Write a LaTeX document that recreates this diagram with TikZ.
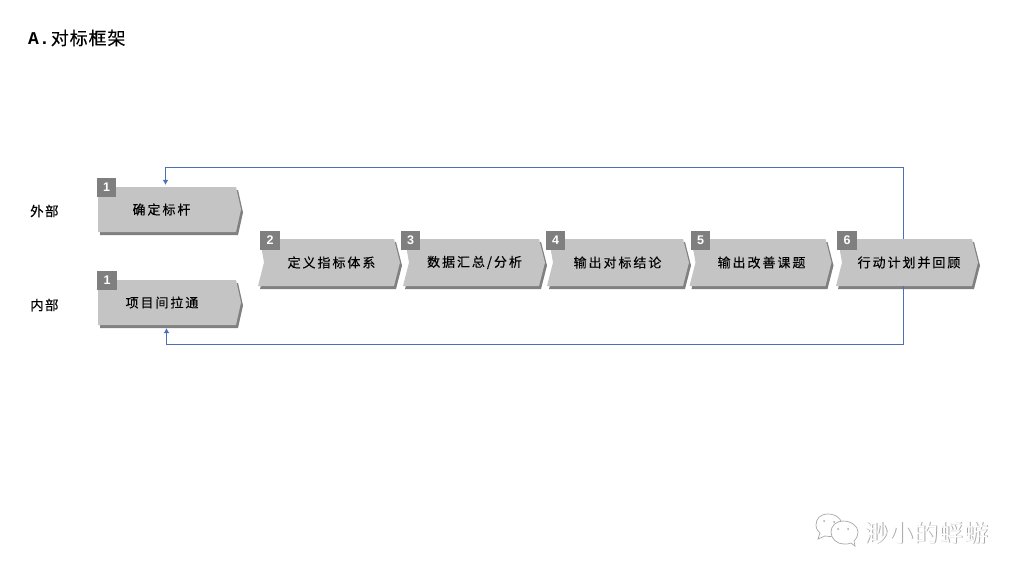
\documentclass[tikz,border=0pt]{standalone}
\usepackage{fontspec}
\setmainfont{Liberation Sans}
\newfontfamily\cjk[LetterSpace=15,FakeBold=0.25]{Noto Sans CJK SC}
\newfontfamily\cjkside[LetterSpace=10,FakeBold=0.25]{Noto Sans CJK SC}
\newfontfamily\cjktitle[LetterSpace=5,FakeBold=0.25]{Noto Sans CJK SC}
\newfontfamily\cjkwm[LetterSpace=4]{Noto Sans CJK SC}
\newfontfamily\latinmono{Liberation Mono}
\usetikzlibrary{arrows.meta}
\definecolor{stagefill}{HTML}{C4C4C4}
\definecolor{stageshade}{HTML}{808080}
\definecolor{badgefill}{HTML}{7F7F7F}
\definecolor{loopblue}{HTML}{4A70B8}
\definecolor{wmgrey}{HTML}{A8A8A8}
\tikzset{
  x=1pt,y=-1pt,
  stagebody/.style={fill=stagefill,draw=none},
  stageback/.style={fill=stageshade,draw=none},
  stagelabel/.style={font=\cjk\fontsize{13}{13}\selectfont,text=black,inner sep=0pt,minimum width=10pt},
  badge/.style={fill=badgefill,text=white,font=\fontsize{12.5}{12.5}\selectfont\bfseries,inner sep=0pt,minimum width=19.5pt,minimum height=19.5pt},
  sidelabel/.style={font=\cjkside\fontsize{13.5}{13.5}\selectfont,inner sep=0pt,anchor=west},
  titlelabel/.style={font=\fontsize{18}{18}\selectfont,inner sep=0pt,anchor=west},
  looppath/.style={draw=loopblue,line width=1pt},
  looparrow/.style={-{Latex[length=5pt,width=6pt]}},
  wmline/.style={draw=wmgrey,fill=white,line width=0.7pt},
}
\newcommand{\chevron}[1]{%
  \path[stageback,shift={(2,3)}] (#1,239) -- (#1+136,239) -- (#1+142,262.5) -- (#1+136,286) -- (#1,286) -- (#1+6,262.5) -- cycle;
  \path[stagebody] (#1+2,239) -- (#1+136,239) -- (#1+142,262.5) -- (#1+136,286) -- (#1,286) -- (#1+6,262.5) -- cycle;
}
\newcommand{\startbox}[1]{%
  \path[stageback,shift={(2,3)}] (98,#1) -- (236,#1) -- (241,#1+22.5) -- (236,#1+45) -- (98,#1+45) -- cycle;
  \path[stagebody] (98,#1) -- (236,#1) -- (241,#1+22.5) -- (236,#1+45) -- (98,#1+45) -- cycle;
}
\begin{document}
\begin{tikzpicture}
\useasboundingbox[fill=white] (0,0) rectangle (1024,576);

\node[titlelabel] (title) at (28,38) {{\latinmono\bfseries A.}\hspace{1pt}{\cjktitle 对标框架}};
\node[sidelabel] (ext) at (30,211) {外部};
\node[sidelabel] (int) at (30,305) {内部};

\startbox{187}
\startbox{280}
\chevron{258}
\chevron{403}
\chevron{547}
\chevron{689.5}
\chevron{836}

\node[stagelabel,minimum height=45pt] (s1a) at (161.5,209.5) {\raisebox{-1.2pt}{确定标杆}};
\node[stagelabel,minimum height=45pt] (s1b) at (162,302.5) {\raisebox{-1.2pt}{项目间拉通}};
\node[stagelabel,minimum height=47pt] (s2) at (331.5,262.5) {\raisebox{-1pt}{定义指标体系}};
\node[stagelabel,minimum height=47pt] (s3) at (474.5,262.5) {\raisebox{-1pt}{数据汇总/分析}};
\node[stagelabel,minimum height=47pt] (s4) at (617.5,262.5) {\raisebox{-1pt}{输出对标结论}};
\node[stagelabel,minimum height=47pt] (s5) at (761.5,262.5) {\raisebox{-1pt}{输出改善课题}};
\node[stagelabel,minimum height=47pt] (s6) at (909,262.5) {\raisebox{-1pt}{行动计划并回顾}};

\node[badge] (b1a) at (106.7,187.5) {1};
\node[badge] (b1b) at (107,280.5) {1};
\node[badge] (b2) at (270,240.5) {2};
\node[badge] (b3) at (410.5,240.5) {3};
\node[badge] (b4) at (555.5,240.5) {4};
\node[badge] (b5) at (700.5,240.5) {5};
\node[badge] (b6) at (847,240.5) {6};

\coordinate (tr) at (903.5,167);
\coordinate (tl) at (165.5,167);
\coordinate (br) at (903.5,344.5);
\coordinate (bl) at (166.5,344.5);
\draw[looppath,looparrow,shorten >=2pt] (s6.north -| tr) -- (tr) -- (tl) -- (tl |- s1a.north);
\draw[looppath,looparrow,shorten >=3pt] (s6.south -| br) -- (br) -- (bl) -- (bl |- s1b.south);

% watermark
\path[wmline] (828,514) .. controls (820,514) and (816,519) .. (816,525)
  .. controls (816,529) and (818,531) .. (820,533) -- (818,539) -- (825,536)
  .. controls (832,538) and (840,535) .. (842,528)
  .. controls (843,519) and (836,514) .. (828,514) -- cycle;
\path[wmline] (843,521) .. controls (836,521) and (831,526) .. (831,532)
  .. controls (831,539) and (837,544) .. (844,544)
  .. controls (847,544) and (849,544) .. (851,543) -- (855,546) -- (854,541)
  .. controls (857,538) and (858,535) .. (858,532)
  .. controls (858,526) and (851,521) .. (843,521) -- cycle;
\foreach \px/\py in {824/521,834/522,838/529,848/529}
  \fill[wmgrey] (\px,\py) circle (1pt);
\node[font=\cjkwm\fontsize{24}{24}\selectfont,text=wmgrey,inner sep=0pt,anchor=west] (wmb) at (865,533.8) {渺小的蜉蝣};
\node[font=\cjkwm\fontsize{24}{24}\selectfont,text=white,inner sep=0pt,anchor=west] (wmf) at (864,533) {渺小的蜉蝣};
\end{tikzpicture}
\end{document}
